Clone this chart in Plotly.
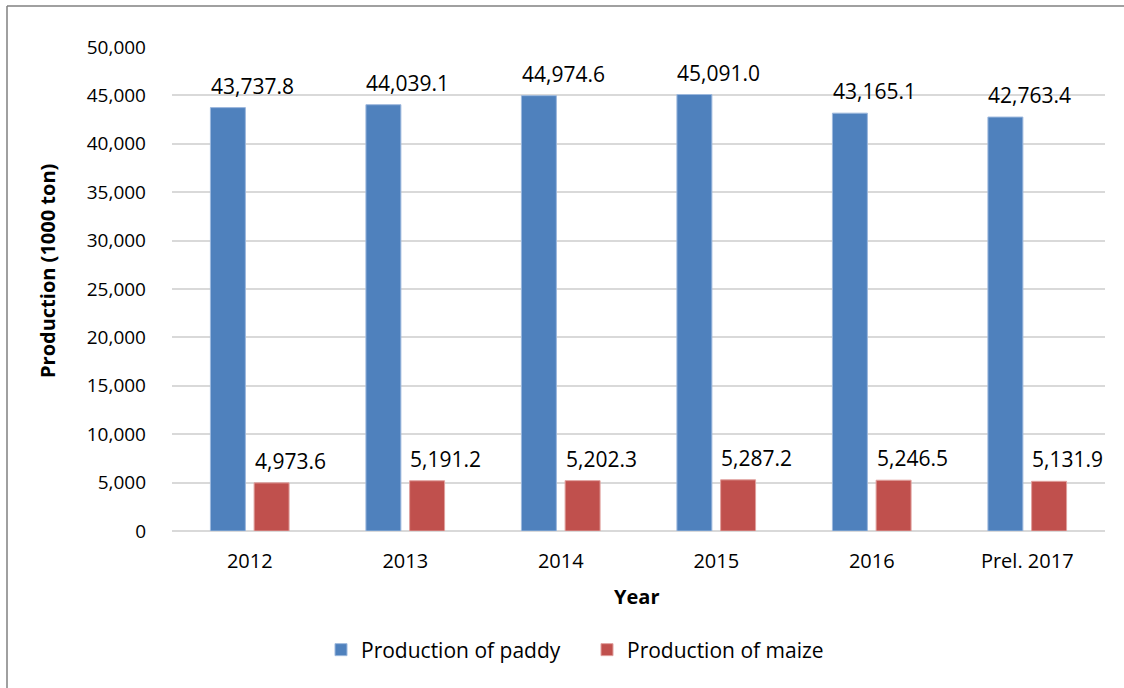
import plotly.graph_objects as go

years = ["2012", "2013", "2014", "2015", "2016", "Prel. 2017"]
paddy = [43737.8, 44039.1, 44974.6, 45091.0, 43165.1, 42763.4]
maize = [4973.6, 5191.2, 5202.3, 5287.2, 5246.5, 5131.9]

W, H = 1124, 688
L, R, T, B = 172, 19, 47, 157
pw, ph = W - L - R, H - T - B

FONT = "Open Sans"
BLUE = "#4F81BD"
RED = "#C0504D"

fig = go.Figure()
fig.add_trace(go.Bar(x=years, y=paddy, name="Production of paddy",
                     marker=dict(color=BLUE, line=dict(color="#9DB8DD", width=1))))
fig.add_trace(go.Bar(x=years, y=maize, name="Production of maize",
                     marker=dict(color=RED, line=dict(color="#E0A09E", width=1))))

ann = []
for i, (p, m) in enumerate(zip(paddy, maize)):
    ann.append(dict(x=i, y=p, xref="x", yref="y", text=f"{p:,.1f}", showarrow=False,
                    xanchor="left", yanchor="bottom", xshift=-41, yshift=6,
                    font=dict(family=FONT, size=21, color="#000")))
    ann.append(dict(x=i, y=m, xref="x", yref="y", text=f"{m:,.1f}", showarrow=False,
                    xanchor="left", yanchor="bottom", xshift=3, yshift=6,
                    font=dict(family=FONT, size=21, color="#000")))
ann.append(dict(x=(47 - L) / pw, y=(H - B - 271) / ph, xref="paper", yref="paper",
                text="<b>Production (1000 ton)</b>", textangle=-90, showarrow=False,
                xanchor="center", yanchor="middle",
                font=dict(family=FONT, size=20, color="#000")))
ann.append(dict(x=(636 - L) / pw, y=(H - B - 597) / ph, xref="paper", yref="paper",
                text="<b>Year</b>", showarrow=False, xanchor="center", yanchor="middle",
                font=dict(family=FONT, size=20, color="#000")))

shapes = [
    dict(type="line", xref="paper", yref="paper",
         x0=(7 - L) / pw, x1=(7 - L) / pw, y0=(H - B - 6) / ph, y1=(H - B - 700) / ph,
         line=dict(color="#808080", width=1.5)),
    dict(type="line", xref="paper", yref="paper",
         x0=(7 - L) / pw, x1=(1130 - L) / pw, y0=(H - B - 6) / ph, y1=(H - B - 6) / ph,
         line=dict(color="#808080", width=1.5)),
]

fig.update_layout(
    width=W, height=H,
    margin=dict(l=L, r=R, t=T, b=B, autoexpand=False),
    paper_bgcolor="white", plot_bgcolor="white",
    barmode="group", bargap=0.438, bargroupgap=0.2,
    font=dict(family=FONT, size=19, color="#000"),
    showlegend=True,
    legend=dict(orientation="h", x=(587 - L) / pw, xanchor="center",
                y=(H - B - 650) / ph, yanchor="middle",
                font=dict(family=FONT, size=21, color="#000"),
                itemwidth=30, entrywidth=221, traceorder="normal"),
    annotations=ann, shapes=shapes,
)
fig.update_yaxes(range=[0, 50000], dtick=5000, tickformat=",d",
                 showgrid=True, gridcolor="#D9D9D9", gridwidth=1.5,
                 zeroline=True, zerolinecolor="#D9D9D9", zerolinewidth=2,
                 showline=False, ticks="", ticklabelstandoff=25,
                 tickfont=dict(family=FONT, size=19, color="#000"))
fig.update_xaxes(type="category", range=[-0.5, len(years) - 0.5],
                 showgrid=False, showline=False, ticks="",
                 ticklabelstandoff=16,
                 tickfont=dict(family=FONT, size=20, color="#000"))

fig.write_html("out.html")
